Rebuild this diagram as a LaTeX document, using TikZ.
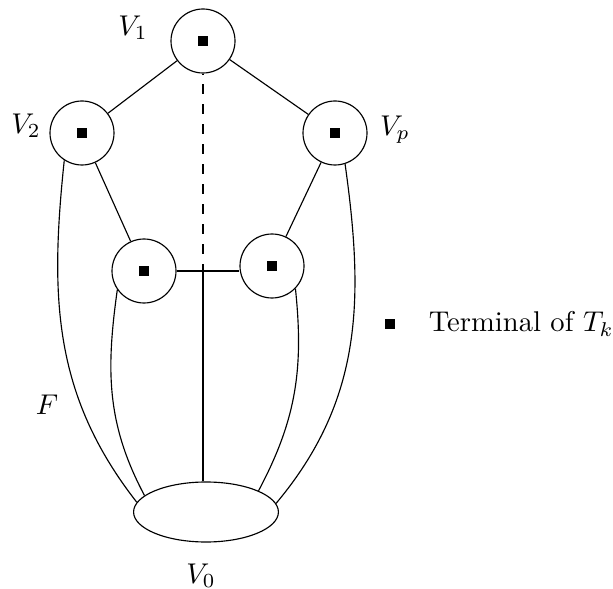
\documentclass[tikz,border=0pt]{standalone}
\usetikzlibrary{shapes.geometric,positioning}
\begin{document}
\begin{tikzpicture}[x=0.35pt,y=-0.35pt,line cap=butt,line join=miter]
	\tikzset{vx/.style={draw,circle,minimum size=22.4pt,inner sep=0pt},
		term/.style={fill,minimum size=3.8pt,inner sep=0pt}
	}
	\useasboundingbox (0,0) rectangle (613,589);
	% vertices of the wheel
	\node[vx] (v1) at (203,41) {};
	\node[vx] (v2) at (82,133) {};
	\node[vx] (vp) at (335,133) {};
	\node[vx] (a) at (144,271) {};
	\node[vx] (b) at (272,266) {};
	\node[draw,ellipse,minimum width=50.7pt,minimum height=21pt,inner sep=0pt] (v0) at (206,512) {};
	\foreach \n in {v1,v2,vp,a,b} \node[term] at (\n) {};
	% labels
	\node (lv1) at (133,28) {$V_1$};
	\node (lv2) at (26,126) {$V_2$};
	\node (lvp) at (395,130) {$V_p$};
	\node (lf) at (47,405) {$F$};
	\node (lv0) at (201,576) {$V_0$};
	% edges
	\draw (v1)--(v2) (v1)--(vp) (v2)--(a) (vp)--(b);
	\draw (a.east)--(a.east -| b.west);
	\coordinate (m) at (v1.south |- a.east);
	\draw[dash pattern=on 3.5pt off 3.5pt,dash phase=3.2pt] (v1.south)--(m);
	\draw (m)--(m |- v0.north);
	\draw (v2.-123) to[out=-96,in=128] (v0.172);
	\draw (a.-145) to[out=-98,in=118] (v0.165);
	\draw (b.-44) to[out=-84,in=62] (v0.22);
	\draw (vp.-72) to[out=-82,in=50] (v0.7);
	% legend
	\node[term] (key) at (390,324) {};
	\node[right=8pt of key] (keytext) {Terminal of $T_k$};
\end{tikzpicture}
\end{document}
